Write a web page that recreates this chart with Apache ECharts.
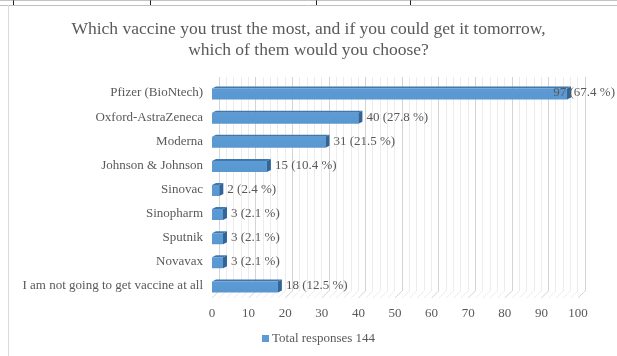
<!DOCTYPE html>
<html><head><meta charset="utf-8">
<script src="https://cdn.jsdelivr.net/npm/echarts@6/dist/echarts.min.js"></script>
<style>html,body{margin:0;padding:0;background:#fff;}#c{width:617px;height:356px;}</style>
</head><body><div id="c"></div>
<script>
const titleText = 'Which vaccine you trust the most, and if you could get it tomorrow,\nwhich of them would you choose?';
const categories = ['Pfizer (BioNtech)','Oxford-AstraZeneca','Moderna','Johnson & Johnson','Sinovac','Sinopharm','Sputnik','Novavax','I am not going to get vaccine at all'];
const values = [97, 40, 31, 15, 2, 3, 3, 3, 18];
const percents = ['67.4 %','27.8 %','21.5 %','10.4 %','2.4 %','2.1 %','2.1 %','2.1 %','12.5 %'];
const seriesName = 'Total responses 144';
const axisMin = 0, axisMax = 100, axisStep = 10;

const FONT = '"Liberation Serif","Times New Roman",serif';
const TXT = '#595959';
const chart = echarts.init(document.getElementById('c'));

const DX = 4, DY = 2, BH = 11;
function renderBar(params, api) {
  const idx = api.value(0);
  const v = api.value(1);
  const p0 = api.coord([0, idx]);
  const p1 = api.coord([v, idx]);
  const x0 = p0[0], x1 = p1[0];
  const yc = p0[1];
  const yt = yc - BH / 2 + 1, yb = yc + BH / 2 + 1;
  const label = values[idx] + ' (' + percents[idx] + ')';
  const font = '13px ' + FONT;
  const w = echarts.format.getTextRect ? echarts.format.getTextRect(label, font).width : label.length * 6;
  let lx = x1 + DX + 4;
  if (lx + w > 615) lx = 615 - w;
  return {
    type: 'group',
    children: [
      { type: 'polygon', shape: { points: [[x0, yt], [x1, yt], [x1 + DX, yt - DY], [x0 + DX, yt - DY]] },
        style: { fill: '#3f78ad' } },
      { type: 'rect', shape: { x: x0, y: yt, width: x1 - x0, height: yb - yt },
        style: { fill: new echarts.graphic.LinearGradient(0, 0, 0, 1, [{offset: 0, color: '#5c9bd6'}, {offset: 1, color: '#5a97d0'}]) } },
      { type: 'polygon', shape: { points: [[x1, yt], [x1 + DX, yt - DY], [x1 + DX, yb - DY], [x1, yb]] },
        style: { fill: '#2f6597' } },
      { type: 'text', x: lx, y: yc,
        style: { text: label, fill: TXT, font: font, verticalAlign: 'middle', textAlign: 'left' },
        z2: 10 }
    ]
  };
}

chart.setOption({
  animation: false,
  backgroundColor: '#fff',
  title: {
    text: titleText, left: 'center', top: 14,
    textStyle: { fontFamily: FONT, fontSize: 17.5, fontWeight: 'normal', color: TXT, lineHeight: 21 }
  },
  legend: {
    data: [{ name: seriesName, icon: 'rect' }],
    bottom: 6, left: 257, itemWidth: 7, itemHeight: 7, itemGap: 4,
    textStyle: { fontFamily: FONT, fontSize: 13, color: TXT, padding: [0,0,0,-2] }
  },
  grid: [
    { left: 212, right: 39, top: 81, bottom: 58 },
    { left: 219, right: 32, top: 77, bottom: 65 }
  ],
  xAxis: [
    { type: 'value', gridIndex: 0, min: axisMin, max: axisMax, interval: axisStep,
      axisLine: { show: false }, axisTick: { show: false }, splitLine: { show: false },
      axisLabel: { margin: 9, fontFamily: FONT, fontSize: 13, color: TXT } },
    { type: 'value', gridIndex: 1, min: axisMin, max: axisMax, interval: axisStep,
      axisLine: { show: false }, axisTick: { show: false }, axisLabel: { show: false },
      splitLine: { show: true, lineStyle: { color: '#d4d4d4', width: 1 } },
      minorTick: { show: false, splitNumber: 5 },
      minorSplitLine: { show: true, lineStyle: { color: '#ececec', width: 1 } } }
  ],
  yAxis: [
    { type: 'category', gridIndex: 0, data: categories, inverse: true,
      axisLine: { show: false }, axisTick: { show: false },
      axisLabel: { margin: 9, fontFamily: FONT, fontSize: 13, color: TXT } },
    { type: 'category', gridIndex: 1, data: categories, inverse: true, show: false }
  ],
  series: [{
    name: seriesName, type: 'custom', xAxisIndex: 0, yAxisIndex: 0,
    itemStyle: { color: '#5b9bd5' },
    renderItem: renderBar,
    encode: { x: 1, y: 0 },
    data: values.map((v, i) => [i, v]),
    z: 5
  }]
});

// decorative chart frame + 3D floor diagonals, positioned through the axis scale
const els = [];
const yFront = 298, yBack = 291;
for (let t = axisMin; t <= axisMax; t += axisStep / 5) {
  const xf = chart.convertToPixel({ xAxisIndex: 0 }, t);
  const xb = chart.convertToPixel({ xAxisIndex: 1 }, t);
  els.push({ type: 'line', shape: { x1: xf, y1: yFront, x2: xb, y2: yBack },
    style: { stroke: (t % axisStep === 0) ? '#d4d4d4' : '#ececec', lineWidth: 1 }, silent: true, z: 0 });
}
els.push({ type: 'line', shape: { x1: 0, y1: 5.5, x2: 617, y2: 5.5 }, style: { stroke: '#bfbfbf', lineWidth: 1 } });
els.push({ type: 'line', shape: { x1: 8.5, y1: 5, x2: 8.5, y2: 356 }, style: { stroke: '#d9d9d9', lineWidth: 1 } });
[13.5, 150.5, 316.5, 410.5].forEach(x => els.push({ type: 'line', shape: { x1: x, y1: 0, x2: x, y2: 5 }, style: { stroke: '#222', lineWidth: 1 } }));
els.push({ type: 'line', shape: { x1: 0, y1: 0, x2: 617, y2: 0 }, style: { stroke: '#888', lineWidth: 1 } });
chart.setOption({ graphic: els });
</script></body></html>
